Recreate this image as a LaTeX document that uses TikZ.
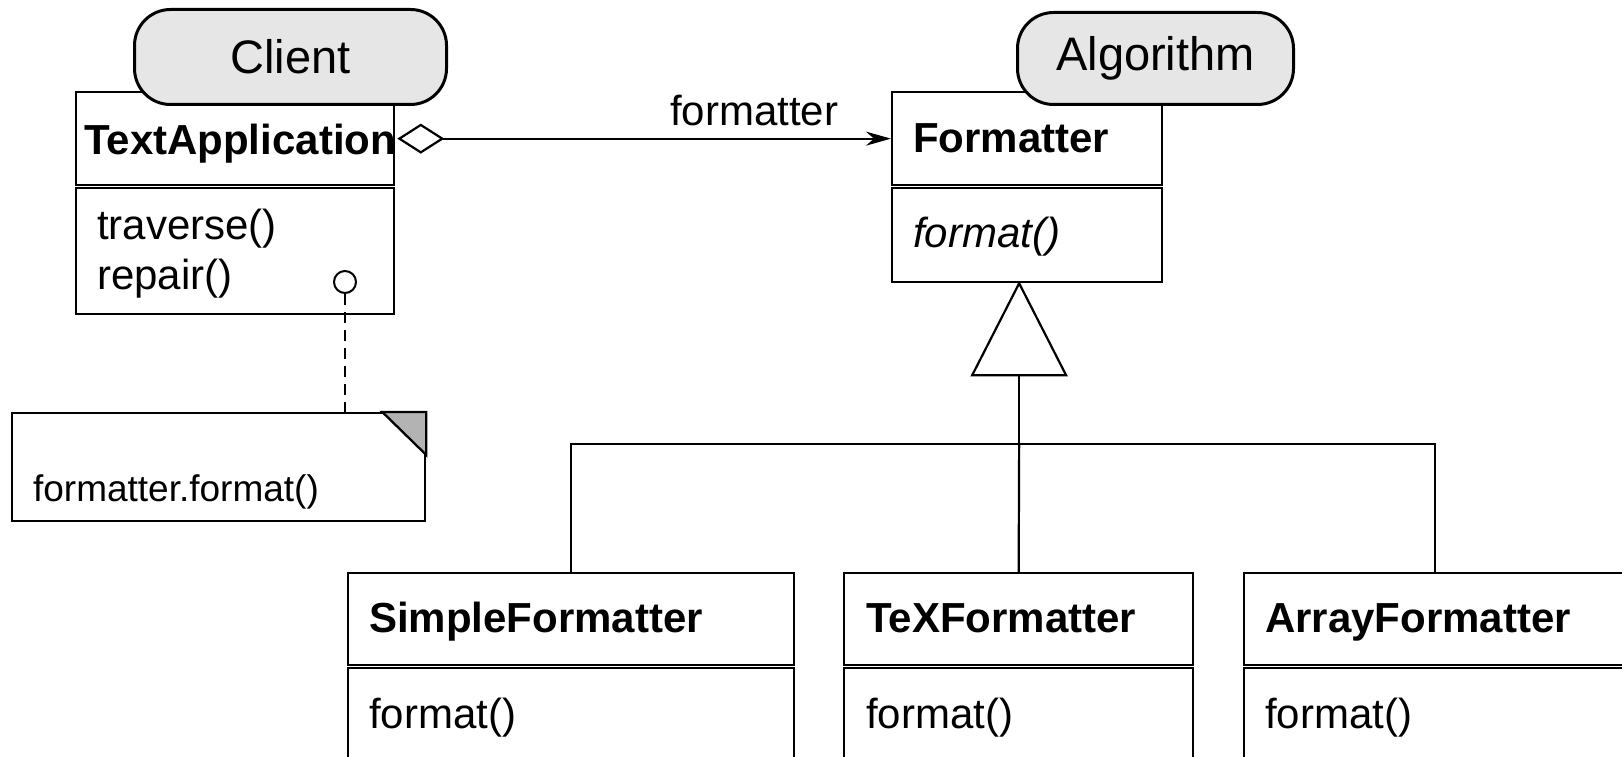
\documentclass[tikz,border=0pt]{standalone}
\usepackage{fontspec}
\setmainfont{Liberation Sans}
\usetikzlibrary{arrows.meta,calc}
\definecolor{pillgray}{HTML}{E6E6E6}
\definecolor{notegray}{HTML}{B3B3B3}
\begin{document}
\begin{tikzpicture}[x=1pt,y=-1pt,
  line width=2.2pt,
  box/.style={draw, line width=2.3pt, rectangle, inner sep=0pt, anchor=north west, fill=white},
  pill/.style={draw, line width=3pt, rounded corners=36pt, fill=pillgray, inner sep=0pt, anchor=north west, font=\fontsize{47}{56}\selectfont},
  cname/.style={anchor=base west, inner sep=0pt, font=\fontsize{42}{50}\selectfont\bfseries},
  meth/.style={anchor=base west, inner sep=0pt, font=\fontsize{42}{50}\selectfont},
  notetext/.style={anchor=base west, inner sep=0pt, font=\fontsize{37}{44}\selectfont},
  assoc/.style={line width=2.2pt, {Diamond[open,length=47pt,width=30pt]}-{Stealth[length=25pt,width=14pt,inset=8pt]}},
  dashlink/.style={line width=2pt, dash pattern=on 11pt off 7pt}
]
\useasboundingbox (0,0) rectangle (1622,757);

% TextApplication (Client)
\node[box, minimum width=318pt, minimum height=93pt] (taname) at (75,91) {};
\node[box, minimum width=318pt, minimum height=126pt] (tameth) at (75,187) {};
\node[pill, minimum width=312pt, minimum height=95pt] (client) at (133,8) {Client};
\node[cname] (tatext) at (83,154) {TextApplication};
\node[meth] (trav) at (96,239) {traverse()};
\node[meth] (rep) at (96,289) {repair()};
\node[circle, draw, line width=2pt, minimum size=22pt, inner sep=0pt] (knob) at (345,282) {};

% Note
\node[box, minimum width=413pt, minimum height=108pt] (note) at (11,412) {};
\coordinate (fold1) at ($(note.north east)+(-44,0)$);
\coordinate (fold2) at ($(note.north east)+(0,43)$);
\fill[notegray] (fold1) -- (note.north east) -- (fold2) -- cycle;
\draw[line width=2.3pt, line join=miter] (fold1) -- (note.north east) -- (fold2) -- cycle;
\node[notetext] (notetxt) at (32,501) {formatter.format()};
\draw[dashlink] (knob.south) -- (knob.south |- note.north);

% Formatter (Algorithm)
\node[box, minimum width=270pt, minimum height=93pt] (fname) at (891,91) {};
\node[box, minimum width=270pt, minimum height=94pt] (fmeth) at (891,187) {};
\node[pill, minimum width=276pt, minimum height=92pt] (algo) at (1016,11) {Algorithm};
\node[cname] (ftext) at (912,153) {Formatter};
\node[meth, font=\fontsize{42}{50}\selectfont\itshape] (fop) at (912,247) {format()};

% Association
\draw[assoc] ($(taname.east)+(2,0)$) -- (fname.west);
\node[meth] (assoclabel) at (669,126) {formatter};

% Subclasses
\node[box, minimum width=446pt, minimum height=92pt] (sname) at (347,572) {};
\node[box, minimum width=446pt, minimum height=120pt] (smeth) at (347,667) {};
\node[box, minimum width=349pt, minimum height=92pt] (tname) at (843,572) {};
\node[box, minimum width=349pt, minimum height=120pt] (tmeth) at (843,667) {};
\node[box, minimum width=382pt, minimum height=92pt] (aname) at (1243,572) {};
\node[box, minimum width=382pt, minimum height=120pt] (ameth) at (1243,667) {};
\node[cname] (stext) at (368,632) {SimpleFormatter};
\node[meth] (sop) at (368,728) {format()};
\node[cname] (ttext) at (865,632) {TeXFormatter};
\node[meth] (top) at (865,728) {format()};
\node[cname] (atext) at (1264,632) {ArrayFormatter};
\node[meth] (aop) at (1264,728) {format()};

% Generalization
\coordinate (apex) at ($(fmeth.south)+(-8,0)$);
\coordinate (tb) at ($(apex)+(0,92)$);
\coordinate (j) at ($(apex)+(0,161)$);
\draw[line join=miter] (apex) -- ($(tb)+(-47,0)$) -- ($(tb)+(47,0)$) -- cycle;
\draw (tb) -- (j);
\draw (sname.north) |- (j) -| (aname.north);
\draw (tname.north) -- (j);
\end{tikzpicture}
\end{document}
